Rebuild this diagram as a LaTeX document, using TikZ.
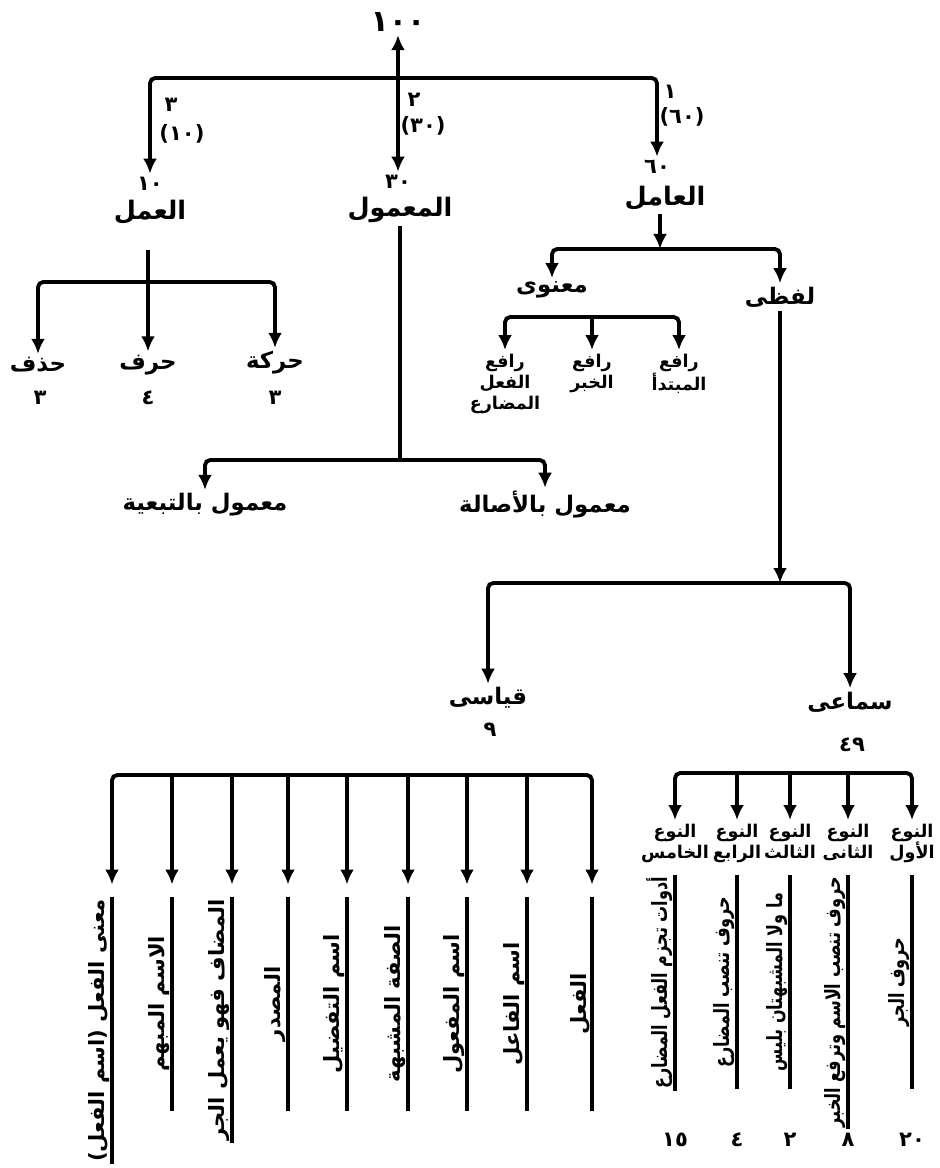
\documentclass[tikz,border=0pt]{standalone}
\usepackage{fontspec}
\usetikzlibrary{arrows.meta}
\newfontfamily\arabicfont[Script=Arabic]{DejaVu Sans}
\TeXXeTstate=1
\newcommand\artxt[1]{\beginR #1\endR}
\newcommand\artsqz[1]{\scalebox{0.76}[1]{\beginR #1\endR}}

\begin{document}
\begin{tikzpicture}[x=0.02cm, y=-0.02cm, line width=2.2pt,
	>={Latex[length=3mm,width=2.8mm]},
	lbl/.style={font=\arabicfont\bfseries\fontsize{14.5}{17}\selectfont, inner sep=1pt},
	mid/.style={font=\arabicfont\bfseries\fontsize{13}{15}\selectfont, inner sep=1pt},
	sml/.style={font=\arabicfont\bfseries\fontsize{10}{12}\selectfont, align=center, inner sep=1pt},
	num/.style={font=\arabicfont\bfseries\fontsize{12}{14}\selectfont, inner sep=1pt},
	vtext/.style={font=\arabicfont\bfseries\fontsize{12}{14}\selectfont, rotate=90,
		anchor=south east, inner sep=0pt, minimum width=4.2cm},
	kid/.style={->, shorten >=2.5mm}
	]
	\useasboundingbox (0,0) rectangle (939,1168);
	
	%Kopf
	\node[num, font=\arabicfont\bfseries\fontsize{17}{19}\selectfont] (top) at (398,22) {١٠٠};
	\coordinate (barmid) at (398,78);
	
	\node[num] (amalnum)  at (150,184) {١٠};
	\node[lbl] (amal)     at (150,212) {\artxt{العمل}};
	\node[num] (mamulnum) at (398,182) {٣٠};
	\node[lbl] (mamul)    at (400,210) {\artxt{المعمول}};
	\node[num] (amilnum)  at (657,167) {٦٠};
	\node[lbl] (amil)     at (665,198) {\artxt{العامل}};
	
	\node[num] (e3)  at (171,105) {٣};
	\node[num] (e10) at (182,134) {(١٠)};
	\node[num] (e2)  at (414,100) {٢};
	\node[num] (e30) at (423,126) {(٣٠)};
	\node[num] (e1)  at (670,92)  {١};
	\node[num] (e60) at (682,117) {(٦٠)};
	
	\draw[->] (barmid) -- (top);
	\draw[->] (barmid) -- (mamulnum);
	\draw[->, rounded corners=3pt] (barmid) -| (amalnum);
	\draw[->, rounded corners=3pt] (barmid) -| (amilnum);
	
	%العمل
	\coordinate (amalstem) at (148,250);
	\coordinate (amalbar)  at (148,282);
	\node[mid] (hadhf)  at (38,365)  {\artxt{حذف}};
	\node[mid] (harf)   at (148,365) {\artxt{حرف}};
	\node[mid] (haraka) at (275,363) {\artxt{حركة}};
	\node[num] (hadhfnum)  at (40,398)  {٣};
	\node[num] (harfnum)   at (148,398) {٤};
	\node[num] (harakanum) at (275,398) {٣};
	
	\draw (amalstem) -- (amalbar);
	\draw[->] (amalbar) -- (harf);
	\draw[->, rounded corners=3pt] (amalbar) -| (hadhf);
	\draw[->, rounded corners=3pt] (amalbar) -| (haraka);
	
	%المعمول
	\coordinate (mamulbar) at (400,460);
	\node[mid] (tabiyya) at (205,505) {\artxt{معمول بالتبعية}};
	\node[mid] (asala)   at (545,505) {\artxt{معمول بالأصالة}};
	
	\draw (mamul) -- (mamulbar);
	\draw[->, rounded corners=3pt] (mamulbar) -| (tabiyya);
	\draw[->, rounded corners=3pt] (mamulbar) -| (asala);
	
	%العامل
	\coordinate (amilbar) at (660,249);
	\node[mid] (manawi) at (552,290) {\artxt{معنوى}};
	\node[mid] (lafzi)  at (780,297) {\artxt{لفظى}};
	
	\draw[->] (amil.south -| amilbar) -- (amilbar);
	\draw[->, rounded corners=3pt] (amilbar) -| (manawi);
	\draw[->, rounded corners=3pt] (amilbar) -| (lafzi);
	
	\coordinate (manawibar) at (592,317);
	\node[sml, anchor=north] (rafimub) at (679,350) {\artxt{رافع}\\\artxt{المبتدأ}};
	\node[sml, anchor=north] (rafikhb) at (592,350) {\artxt{رافع}\\\artxt{الخبر}};
	\node[sml, anchor=north] (rafifil) at (505,350) {\artxt{رافع}\\\artxt{الفعل}\\\artxt{المضارع}};
	
	\draw[->] (manawibar) -- (rafikhb);
	\draw[->, rounded corners=3pt] (manawibar) -| (rafimub);
	\draw[->, rounded corners=3pt] (manawibar) -| (rafifil);
	
	%لفظى
	\coordinate (lafzibar) at (780,583);
	\node[mid] (qiyasi)    at (488,698) {\artxt{قياسى}};
	\node[num] (qiyasinum) at (490,730) {٩};
	\node[mid] (samai)     at (850,702) {\artxt{سماعى}};
	\node[num] (samainum)  at (852,745) {٤٩};
	
	\draw[->] (lafzi) -- (lafzibar);
	\draw[->, rounded corners=3pt] (lafzibar) -| (qiyasi);
	\draw[->, rounded corners=3pt] (lafzibar) -| (samai);
	
	%قياسى
	\coordinate (qbar) at (350,775);
	\node[vtext] (q1) at (592,897) {\artxt{الفعل}};
	\node[vtext] (q2) at (527,897) {\artxt{اسم الفاعل}};
	\node[vtext] (q3) at (467,897) {\artxt{اسم المفعول}};
	\node[vtext] (q4) at (408,897) {\artxt{الصفة المشبهة}};
	\node[vtext] (q5) at (347,897) {\artxt{اسم التفضيل}};
	\node[vtext] (q6) at (288,897) {\artxt{المصدر}};
	\node[vtext] (q7) at (232,897) {\artxt{المضاف فهو يعمل الجر}};
	\node[vtext] (q8) at (172,897) {\artxt{الاسم المبهم}};
	\node[vtext] (q9) at (112,897) {\artxt{معنى الفعل (اسم الفعل)}};
	
	\draw[kid, rounded corners=3pt] (qbar) -| (q1.south east);
	\draw[kid, rounded corners=3pt] (qbar) -| (q9.south east);
	\draw[kid] (qbar -| q2.south east) -- (q2.south east);
	\draw[kid] (qbar -| q3.south east) -- (q3.south east);
	\draw[kid] (qbar -| q4.south east) -- (q4.south east);
	\draw[kid] (qbar -| q5.south east) -- (q5.south east);
	\draw[kid] (qbar -| q6.south east) -- (q6.south east);
	\draw[kid] (qbar -| q7.south east) -- (q7.south east);
	\draw[kid] (qbar -| q8.south east) -- (q8.south east);
	
	\draw (q1.south west) -- (q1.south east);
	\draw (q2.south west) -- (q2.south east);
	\draw (q3.south west) -- (q3.south east);
	\draw (q4.south west) -- (q4.south east);
	\draw (q5.south west) -- (q5.south east);
	\draw (q6.south west) -- (q6.south east);
	\draw (q7.south west) -- (q7.south east);
	\draw (q8.south west) -- (q8.south east);
	\draw (q9.south west) -- (q9.south east);
	
	%سماعى
	\coordinate (sbar) at (790,773);
	\node[sml, anchor=north] (h1) at (912,820) {\artxt{النوع}\\\artxt{الأول}};
	\node[sml, anchor=north] (h2) at (848,820) {\artxt{النوع}\\\artxt{الثانى}};
	\node[sml, anchor=north] (h3) at (790,820) {\artxt{النوع}\\\artxt{الثالث}};
	\node[sml, anchor=north] (h4) at (737,820) {\artxt{النوع}\\\artxt{الرابع}};
	\node[sml, anchor=north] (h5) at (675,820) {\artxt{النوع}\\\artxt{الخامس}};
	
	\draw[->] (sbar) -- (h3);
	\draw[->] (sbar -| h2) -- (h2);
	\draw[->] (sbar -| h4) -- (h4);
	\draw[->, rounded corners=3pt] (sbar) -| (h1);
	\draw[->, rounded corners=3pt] (sbar) -| (h5);
	
	\node[vtext] (s1) at (912,875) {\artsqz{حروف الجر}};
	\node[vtext] (s2) at (848,875) {\artsqz{حروف تنصب الاسم وترفع الخبر}};
	\node[vtext] (s3) at (790,875) {\artsqz{ما ولا المشبهتان بليس}};
	\node[vtext] (s4) at (737,875) {\artsqz{حروف تنصب المضارع}};
	\node[vtext] (s5) at (675,875) {\artsqz{أدوات تجزم الفعل المضارع}};
	
	\draw (s1.south west) -- (s1.south east);
	\draw (s2.south west) -- (s2.south east);
	\draw (s3.south west) -- (s3.south east);
	\draw (s4.south west) -- (s4.south east);
	\draw (s5.south west) -- (s5.south east);
	
	\node[num] (sn1) at (912,1140) {٢٠};
	\node[num] (sn2) at (848,1140) {٨};
	\node[num] (sn3) at (790,1140) {٢};
	\node[num] (sn4) at (737,1140) {٤};
	\node[num] (sn5) at (675,1140) {١٥};
	
\end{tikzpicture}
\end{document}
